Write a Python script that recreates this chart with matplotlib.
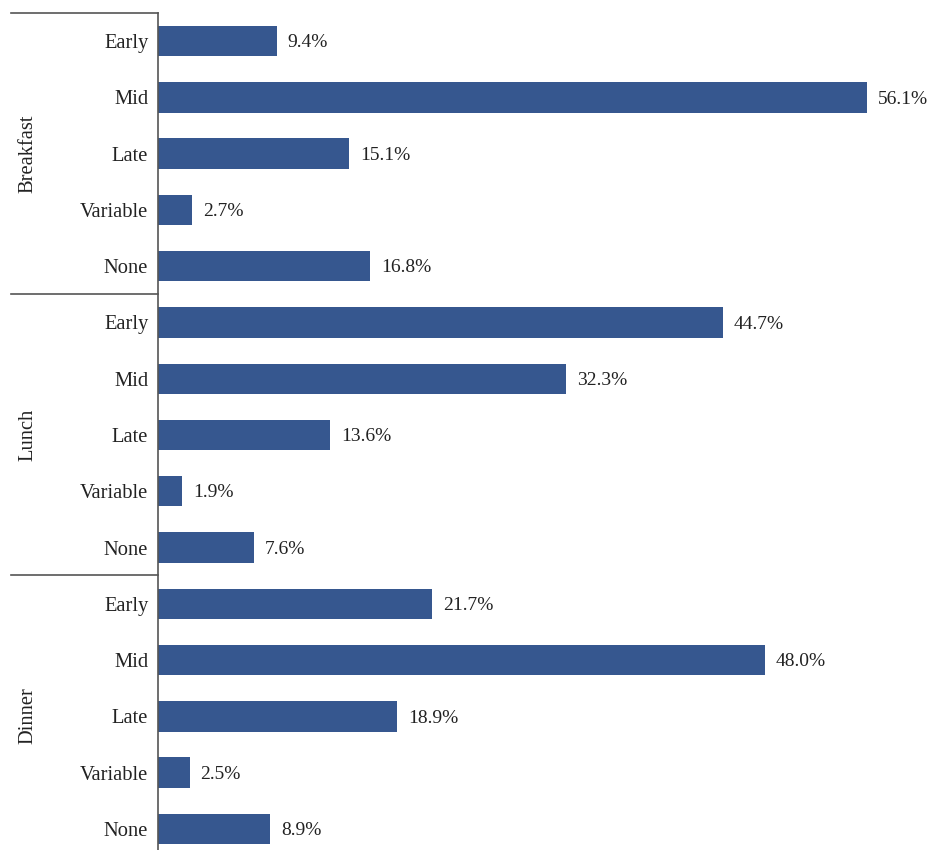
import matplotlib
matplotlib.use("Agg")
import matplotlib.pyplot as plt
from matplotlib.lines import Line2D

groups = ["Breakfast", "Lunch", "Dinner"]
categories = ["Early", "Mid", "Late", "Variable", "None"]
breakfast = [9.4, 56.1, 15.1, 2.7, 16.8]
lunch = [44.7, 32.3, 13.6, 1.9, 7.6]
dinner = [21.7, 48.0, 18.9, 2.5, 8.9]

values = breakfast + lunch + dinner
labels = categories * 3

plt.rcParams['font.family'] = ['Liberation Serif', 'DejaVu Serif']

W, H = 930, 850
fig = plt.figure(figsize=(W / 100, H / 100), dpi=100)
ax_left = 158 / W
ax_bottom = (H - 857) / H
ax_top = (H - 13) / H
ax = fig.add_axes([ax_left, ax_bottom, 1 - ax_left, ax_top - ax_bottom])

bar_color = "#36578F"
text_color = "#222222"
pos = list(range(len(values)))
ax.barh(pos, values, height=0.54, color=bar_color)
for p, v in zip(pos, values):
    ax.text(v + 0.87, p + 0.03, f"{v:.1f}%", va="center", ha="left", fontsize=14, color=text_color)

ax.set_ylim(len(values) - 0.5, -0.5)
ax.set_xlim(0, (W - 158) / 12.64)
ax.set_yticks(pos)
ax.set_yticklabels(labels, fontsize=14.8, color=text_color)
ax.tick_params(axis="y", length=0, pad=7)
ax.set_xticks([])
for s in ["top", "right", "bottom"]:
    ax.spines[s].set_visible(False)
ax.spines["left"].set_color("#555555")
ax.spines["left"].set_linewidth(1.2)

# group separators and labels
line_x0 = 11 / W
for gi, g in enumerate(groups):
    ytop_px = 13 + gi * 281
    yf = (H - ytop_px) / H
    fig.add_artist(Line2D([line_x0, ax_left], [yf, yf], color="#555555", lw=1.2))
    ymid_px = ytop_px + 140.5
    fig.text(28 / W, (H - ymid_px) / H, g, rotation=90, va="center", ha="center",
             fontsize=14.8, color=text_color)

fig.savefig("out.png", dpi=100)
